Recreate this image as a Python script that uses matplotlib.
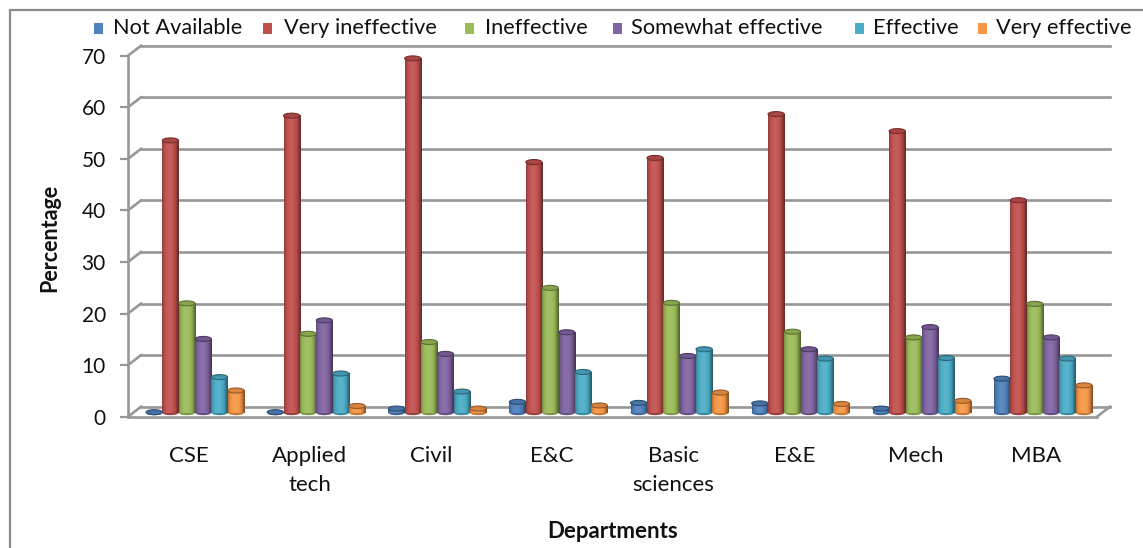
import numpy as np
import matplotlib
matplotlib.use("Agg")
import matplotlib.pyplot as plt
from matplotlib.patches import Rectangle, Ellipse
from matplotlib.lines import Line2D
import matplotlib.colors as mcolors

plt.rcParams['font.family'] = ['Lato', 'DejaVu Sans']

departments = ["CSE", "Applied\ntech", "Civil", "E&C", "Basic\nsciences", "E&E", "Mech", "MBA"]
series_names = ["Not Available", "Very ineffective", "Ineffective",
                "Somewhat effective", "Effective", "Very effective"]
not_available      = [0.1, 0.1, 0.8, 2.1, 1.9, 1.8, 0.8, 6.6]
very_ineffective   = [52.8, 57.6, 68.7, 48.6, 49.4, 57.9, 54.6, 41.2]
ineffective        = [21.2, 15.3, 13.7, 24.2, 21.3, 15.7, 14.6, 21.1]
somewhat_effective = [14.3, 17.9, 11.4, 15.6, 11.0, 12.3, 16.6, 14.6]
effective          = [6.9, 7.6, 4.1, 7.9, 12.3, 10.5, 10.6, 10.5]
very_effective     = [4.3, 1.3, 0.8, 1.4, 3.9, 1.7, 2.3, 5.3]
series = [not_available, very_ineffective, ineffective,
          somewhat_effective, effective, very_effective]
colors = ["#4F81BD", "#C0504D", "#9BBB59", "#8064A2", "#4BACC6", "#F79646"]
yticks = [0, 10, 20, 30, 40, 50, 60, 70]

W, H = 1143, 548
fig = plt.figure(figsize=(W / 100, H / 100), dpi=100)
L, R, B, T = 128, 1097, 416.7, 55.7
ax = fig.add_axes([L / W, (H - B) / H, (R - L) / W, (B - T) / H])
ax.set_xlim(-0.5, 7.5)
ax.set_ylim(0, 70)

pxx = (R - L) / 8.0          # pixels per x unit
pxy = (B - T) / 70.0         # pixels per y unit
bdx, bdy = 13 / pxx, 10 / pxy   # back-wall depth offset (data units)
mdx, mdy = 6.5 / pxx, 4 / pxy   # bar (mid-depth) offset

grid_c = "#979797"
txt_c = "#111111"
# back wall gridlines and left-wall slants
for v in yticks:
    ax.add_line(Line2D([-0.5 + bdx, 7.5 + bdx], [v + bdy, v + bdy], color=grid_c,
                       lw=1.9, clip_on=False, zorder=1))
    ax.add_line(Line2D([-0.5, -0.5 + bdx], [v, v + bdy], color=grid_c,
                       lw=1.9, clip_on=False, zorder=1))
# floor right slant
ax.add_line(Line2D([7.5, 7.5 + bdx], [0, bdy], color=grid_c, lw=1.9,
                   clip_on=False, zorder=1))

# bars
nser = len(series)
w = 0.135
bw = w * 0.99
x = np.arange(len(departments))


def shade(c, f):
    rgb = np.array(mcolors.to_rgb(c))
    if f <= 1:
        return rgb * f
    return rgb + (1 - rgb) * (f - 1)


tprof = np.linspace(0, 1, 40)
prof = 0.72 + 0.36 * np.sin(np.pi * np.clip(tprof * 1.15, 0, 1)) ** 0.6
prof = np.where(tprof > 0.87, prof - (tprof - 0.87) * 1.5, prof)

cap_h = 5 / pxy
for i, (vals, c) in enumerate(zip(series, colors)):
    xs = x + (i - (nser - 1) / 2) * w + mdx
    ax.bar(xs, vals, width=bw, bottom=mdy, color=c, zorder=3,
           clip_on=False, linewidth=0)
    grad = np.array([[shade(c, f) for f in prof]])
    for bx, bv in zip(xs, vals):
        x0, x1 = bx - bw / 2, bx + bw / 2
        ax.add_patch(Ellipse((bx, mdy), bw, cap_h, facecolor=shade(c, 0.8),
                             edgecolor='none', zorder=3, clip_on=False))
        ax.imshow(grad, extent=[x0, x1, mdy, mdy + bv], aspect='auto',
                  zorder=3.5, clip_on=False, interpolation='bilinear')
        ax.add_patch(Ellipse((bx, mdy + bv), bw, cap_h, facecolor=shade(c, 0.88),
                             edgecolor=shade(c, 0.6), lw=0.8, zorder=4, clip_on=False))

ax.set_xlim(-0.5, 7.5)
ax.set_ylim(0, 70)
ax.set_aspect('auto')

for s in ["top", "right"]:
    ax.spines[s].set_visible(False)
ax.spines["left"].set_color(grid_c)
ax.spines["left"].set_linewidth(1.9)
ax.spines["bottom"].set_color(grid_c)
ax.spines["bottom"].set_linewidth(1.9)
ax.set_yticks(yticks)
ax.set_yticklabels([str(v) for v in yticks], fontsize=15, color=txt_c)
ax.tick_params(axis='y', length=6, width=1.6, color=grid_c, pad=10)
ax.set_xticks(x)
ax.set_xticklabels(departments, fontsize=16, color=txt_c, va='top',
                   linespacing=1.55)
ax.tick_params(axis='x', length=0, pad=21)
ax.patch.set_alpha(0)

fig.text(50 / W, 1 - 237.5 / H, "Percentage", rotation=90, ha='center', va='center',
         fontsize=15.5, fontweight='bold', color=txt_c)
fig.text(612.5 / W, 1 - 531 / H, "Departments", ha='center', va='center',
         fontsize=16, fontweight='bold', color=txt_c)

# legend
sq_x = [94, 263, 465, 613, 855, 978]
txt_x = [113, 284, 485, 631, 873, 996]
ly = 28.5
for name, c, sx, tx in zip(series_names, colors, sq_x, txt_x):
    fig.patches.append(Rectangle((sx / W, 1 - (ly + 5.5) / H), 9 / W, 11 / H,
                                 transform=fig.transFigure, facecolor=c,
                                 edgecolor='none'))
    fig.text(tx / W, 1 - ly / H, name, ha='left', va='center', fontsize=15.7,
             color=txt_c)

# outer border
fig.patches.append(Rectangle((10 / W, -0.1), 1.2, 1.1 - 10 / H, transform=fig.transFigure,
                             facecolor='none', edgecolor="#8a8a8a", lw=1.6))

fig.savefig("out.png", dpi=100)
